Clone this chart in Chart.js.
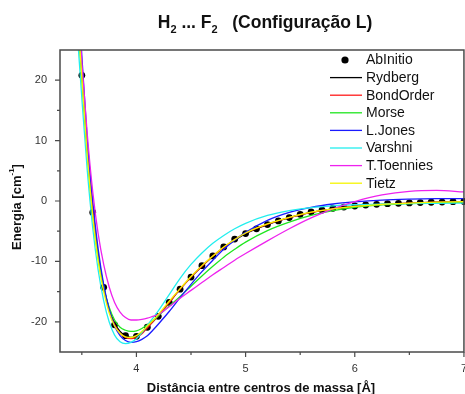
<!DOCTYPE html>
<html>
<head>
<meta charset="utf-8">
<script src="https://cdn.jsdelivr.net/npm/chart.js@4/dist/chart.umd.min.js"></script>
<style>
  html, body { margin: 0; padding: 0; background: #fff; overflow: hidden; }
  #wrap { position: absolute; left: 0; top: 0; width: 477px; height: 394px; }
</style>
</head>
<body>
<div id="wrap"><canvas id="c" width="477" height="394"></canvas></div>
<script>
// ab initio energies (cm-1) vs. centre-of-mass distance (Å)
const abX = [3.5,3.6,3.7,3.8,3.9,4.0,4.1,4.2,4.3,4.4,4.5,4.6,4.7,4.8,4.9,5.0,5.1,5.2,5.3,5.4,5.5,5.6,5.7,5.8,5.9,6.0,6.1,6.2,6.3,6.4,6.5,6.6,6.7,6.8,6.9,7.0];
const abY = [20.8,-1.9,-14.3,-20.5,-22.3,-22.4,-20.9,-19.1,-16.8,-14.6,-12.6,-10.7,-9.1,-7.6,-6.3,-5.4,-4.6,-3.9,-3.3,-2.75,-2.2,-1.8,-1.5,-1.2,-1.0,-0.83,-0.66,-0.55,-0.45,-0.38,-0.32,-0.26,-0.21,-0.17,-0.12,-0.08];

// fitted model curves, sampled on a common distance grid
const curveX = [3.45,3.5,3.55,3.6,3.65,3.7,3.75,3.8,3.85,3.9,3.95,4.0,4.05,4.1,4.15,4.2,4.3,4.4,4.5,4.6,4.7,4.8,4.9,5.0,5.2,5.4,5.6,5.8,6.0,6.25,6.5,6.75,7.0];
const rydberg   = [36,21.5,8.5,-1.5,-9.0,-14.2,-17.9,-20.2,-21.6,-22.3,-22.6,-22.4,-21.8,-20.9,-20.0,-19.0,-16.8,-14.6,-12.6,-10.8,-9.2,-7.7,-6.5,-5.4,-3.9,-2.75,-1.9,-1.3,-0.9,-0.55,-0.35,-0.2,-0.1];
const bondOrder = [36.5,21.8,8.6,-1.6,-9.2,-14.4,-18.1,-20.5,-21.9,-22.6,-22.8,-22.6,-22.0,-21.0,-20.0,-19.0,-16.8,-14.6,-12.6,-10.8,-9.1,-7.7,-6.4,-5.3,-3.85,-2.75,-1.9,-1.3,-0.9,-0.55,-0.35,-0.2,-0.1];
const morse     = [33,20,7.5,-2.5,-9.5,-14.3,-17.6,-19.7,-20.9,-21.4,-21.6,-21.5,-21.1,-20.5,-19.8,-19.0,-17.4,-15.8,-14.1,-12.4,-10.8,-9.3,-8.0,-6.8,-4.9,-3.5,-2.4,-1.6,-1.05,-0.65,-0.42,-0.28,-0.2];
const lJones    = [40,24,10,0,-8,-13.8,-17.9,-20.7,-22.3,-23.1,-23.4,-23.3,-22.9,-22.3,-21.4,-20.4,-18.3,-16.0,-13.8,-11.7,-9.8,-8.0,-6.5,-5.2,-3.2,-1.9,-1.05,-0.5,-0.15,0.15,0.3,0.38,0.4];
const varshni   = [30,17,5,-4.5,-11.5,-16.5,-20.0,-22.2,-23.3,-23.6,-23.4,-22.8,-21.8,-20.6,-19.4,-18.2,-15.5,-12.8,-10.5,-8.6,-7.0,-5.7,-4.6,-3.7,-2.4,-1.6,-1.1,-0.8,-0.62,-0.5,-0.42,-0.38,-0.35];
const tToennies = [38,23,11,1.5,-5.5,-10.5,-14.2,-16.8,-18.4,-19.3,-19.7,-19.7,-19.6,-19.4,-19.1,-18.8,-17.5,-16.1,-14.8,-13.5,-12.2,-11.0,-9.8,-8.7,-6.6,-4.6,-2.8,-1.3,-0.1,1.0,1.6,1.75,1.5];
const tietz     = [34,20.5,7.5,-2.5,-10.0,-15.0,-18.5,-20.7,-21.9,-22.5,-22.6,-22.3,-21.6,-20.7,-19.8,-18.8,-16.6,-14.5,-12.5,-10.7,-9.1,-7.6,-6.4,-5.3,-3.8,-2.7,-1.85,-1.3,-0.9,-0.55,-0.35,-0.2,-0.1];

const modelNames  = ['Rydberg','BondOrder','Morse','L.Jones','Varshni','T.Toennies','Tietz'];
const modelSeries = [rydberg, bondOrder, morse, lJones, varshni, tToennies, tietz];
const modelColors = ['#000000','#ff1a1a','#1ee61e','#1a1aff','#22eeee','#ee22ee','#f5f500'];

const xTicks = [4,5,6,7];
const xMinor = [3.5,4.5,5.5,6.5];
const yTicks = [-20,-10,0,10,20];
const yMinor = [-15,-5,5,15];

const FONT = '"Liberation Sans", Arial, sans-serif';
const AXIS_COLOR = '#4a4a4a';

const pairs = (xs, ys) => xs.map((x, i) => ({x, y: ys[i]}));

const datasets = [{
  label: 'AbInitio',
  data: pairs(abX, abY),
  showLine: false,
  pointRadius: 3.4,
  pointBackgroundColor: '#000',
  pointBorderColor: '#000',
  pointBorderWidth: 0,
  order: 20,
  clip: false
}];
modelNames.forEach((name, i) => {
  datasets.push({
    label: name,
    data: pairs(curveX, modelSeries[i]),
    showLine: true,
    borderColor: modelColors[i],
    borderWidth: 1.3,
    pointRadius: 0,
    cubicInterpolationMode: 'monotone',
    order: modelNames.length - i
  });
});

// frame, tick marks, titles and in-plot legend
const decorations = {
  id: 'decorations',
  afterDraw(chart) {
    const ctx = chart.ctx;
    const a = chart.chartArea;
    const xs = chart.scales.x, ys = chart.scales.y;
    ctx.save();

    // frame
    ctx.strokeStyle = AXIS_COLOR;
    ctx.lineWidth = 1.5;
    ctx.strokeRect(a.left, a.top, a.right - a.left, a.bottom - a.top);

    // tick marks (outward)
    ctx.lineWidth = 1.2;
    ctx.beginPath();
    xTicks.forEach(v => { const p = xs.getPixelForValue(v); ctx.moveTo(p, a.bottom); ctx.lineTo(p, a.bottom + 5); });
    xMinor.forEach(v => { const p = xs.getPixelForValue(v); ctx.moveTo(p, a.bottom); ctx.lineTo(p, a.bottom + 3); });
    yTicks.forEach(v => { const p = ys.getPixelForValue(v); ctx.moveTo(a.left, p); ctx.lineTo(a.left - 5, p); });
    yMinor.forEach(v => { const p = ys.getPixelForValue(v); ctx.moveTo(a.left, p); ctx.lineTo(a.left - 3, p); });
    ctx.stroke();

    ctx.fillStyle = '#111';
    ctx.textBaseline = 'alphabetic';

    // title with subscripts: H2 ... F2   (Configuração L)
    const big = 'bold 17.5px ' + FONT, small = 'bold 11px ' + FONT;
    const parts = [
      ['H', big, 0], ['2', small, 5], [' ... F', big, 0], ['2', small, 5], ['   (Configuração L)', big, 0]
    ];
    let total = 0;
    parts.forEach(p => { ctx.font = p[1]; total += ctx.measureText(p[0]).width; });
    let tx = 265 - total / 2;
    parts.forEach(p => {
      ctx.font = p[1];
      ctx.textAlign = 'left';
      ctx.fillText(p[0], tx, 28 + p[2]);
      tx += ctx.measureText(p[0]).width;
    });

    // x-axis title
    ctx.font = 'bold 13px ' + FONT;
    ctx.textAlign = 'center';
    ctx.textBaseline = 'middle';
    ctx.fillText('Distância entre centros de massa [Å]', 261, 388);

    // y-axis title with superscript
    ctx.save();
    ctx.translate(17, 207);
    ctx.rotate(-Math.PI / 2);
    const yParts = [['Energia [cm', 'bold 13px ' + FONT, 0], ['-1', 'bold 8px ' + FONT, -5], [']', 'bold 13px ' + FONT, 0]];
    let yw = 0;
    yParts.forEach(p => { ctx.font = p[1]; yw += ctx.measureText(p[0]).width; });
    let yx = -yw / 2;
    ctx.textAlign = 'left';
    yParts.forEach(p => {
      ctx.font = p[1];
      ctx.fillText(p[0], yx, p[2]);
      yx += ctx.measureText(p[0]).width;
    });
    ctx.restore();

    // legend
    ctx.font = '14px ' + FONT;
    ctx.textAlign = 'left';
    ctx.textBaseline = 'middle';
    const lx0 = 330, lx1 = 362, tx0 = 366, ly0 = 60, dy = 17.6;
    chart.data.datasets.forEach((ds, i) => {
      const y = ly0 + i * dy;
      if (ds.showLine === false) {
        ctx.fillStyle = '#000';
        ctx.beginPath();
        ctx.arc((lx0 + lx1) / 2 - 1, y, 3.6, 0, Math.PI * 2);
        ctx.fill();
      } else {
        ctx.strokeStyle = ds.borderColor;
        ctx.lineWidth = 1.3;
        ctx.beginPath();
        ctx.moveTo(lx0, y);
        ctx.lineTo(lx1, y);
        ctx.stroke();
      }
      ctx.fillStyle = '#111';
      ctx.fillText(ds.label, tx0, y + 0.5);
    });

    ctx.restore();
  }
};

new Chart(document.getElementById('c'), {
  type: 'scatter',
  data: { datasets },
  options: {
    responsive: false,
    animation: false,
    devicePixelRatio: 1,
    layout: { padding: { top: 50, right: 6, left: 0, bottom: 0 } },
    plugins: { legend: { display: false }, title: { display: false }, tooltip: { enabled: false } },
    scales: {
      x: {
        type: 'linear',
        min: 3.3, max: 7.0,
        grid: { display: false, drawTicks: false },
        border: { display: false },
        afterBuildTicks: s => { s.ticks = xTicks.map(v => ({value: v})); },
        afterFit: s => { s.height = 42; },
        ticks: { padding: 10, color: '#333', font: { family: FONT, size: 11 }, callback: v => String(v) }
      },
      y: {
        type: 'linear',
        min: -25, max: 25,
        grid: { display: false, drawTicks: false },
        border: { display: false },
        afterBuildTicks: s => { s.ticks = yTicks.map(v => ({value: v})); },
        afterFit: s => { s.width = 60; },
        ticks: { padding: 13, color: '#333', font: { family: FONT, size: 11 }, callback: v => String(v) }
      }
    }
  },
  plugins: [decorations]
});
</script>
</body>
</html>
